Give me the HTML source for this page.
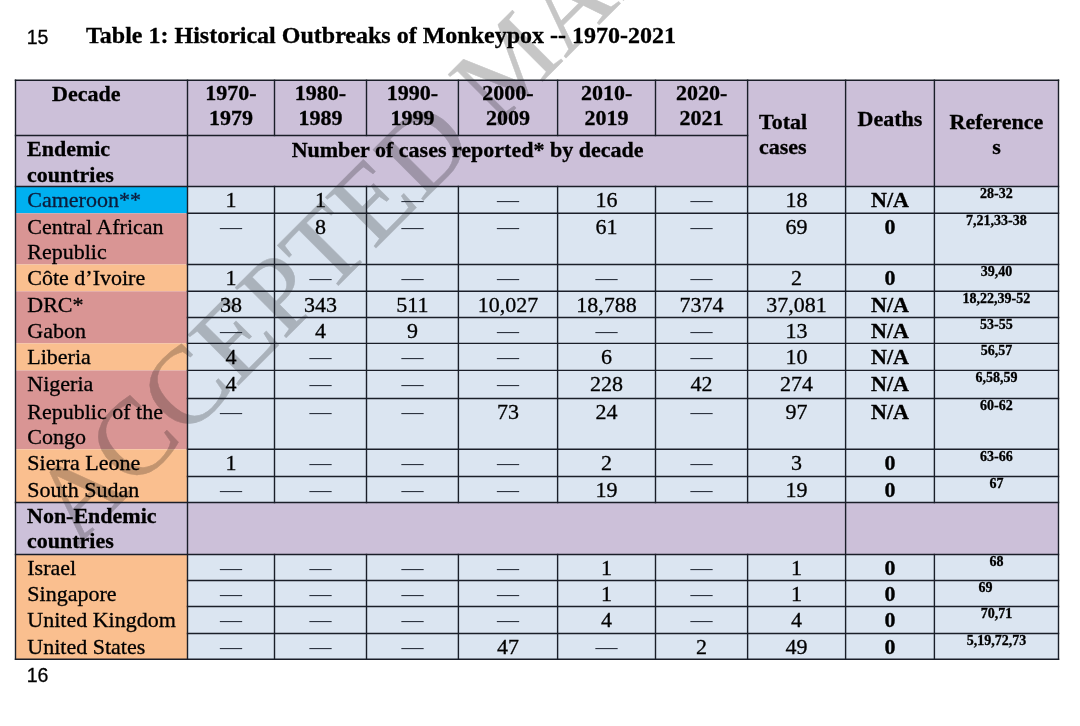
<!DOCTYPE html>
<html><head><meta charset="utf-8"><style>
html,body{margin:0;padding:0;background:#fff;}
body{width:1080px;height:726px;position:relative;overflow:hidden;font-family:"Liberation Serif",serif;color:#000;}
.t{position:absolute;white-space:nowrap;-webkit-text-stroke:0.3px currentColor;}
svg.g{position:absolute;left:0;top:0;}
</style></head><body>
<svg class="g" width="1080" height="726">
<rect x="15.5" y="80.3" width="1043.00" height="106.20" fill="#CCC0D9"/><rect x="187.5" y="186.5" width="871.00" height="472.80" fill="#DBE5F1"/><rect x="187.5" y="502.5" width="871.00" height="52.00" fill="#CCC0D9"/><rect x="15.5" y="186.5" width="172.00" height="26.80" fill="#00B0F0"/><rect x="15.5" y="213.3" width="172.00" height="51.20" fill="#D99594"/><rect x="15.5" y="264.5" width="172.00" height="26.80" fill="#FABF8F"/><rect x="15.5" y="291.3" width="172.00" height="52.10" fill="#D99594"/><rect x="15.5" y="343.4" width="172.00" height="27.00" fill="#FABF8F"/><rect x="15.5" y="370.4" width="172.00" height="78.90" fill="#D99594"/><rect x="15.5" y="449.3" width="172.00" height="53.20" fill="#FABF8F"/><rect x="15.5" y="502.5" width="172.00" height="52.00" fill="#CCC0D9"/><rect x="15.5" y="554.5" width="172.00" height="104.80" fill="#FABF8F"/>
</svg>
<svg class="g" width="1080" height="726" style="mix-blend-mode:multiply"><g opacity="1"><text x="77" y="547" transform="rotate(-45 77 547)" font-family="Liberation Serif" font-size="109.5" fill="#C6C6C6" stroke="#C6C6C6" stroke-width="0.4" stroke-linejoin="round">ACCEPTED MANUSCRIPT</text></g></svg>
<div class="t" style="left:52.00px;top:80.72px;font-size:22px;line-height:25.299999999999997px;font-weight:bold;">Decade</div><div class="t" style="left:187.50px;top:80.42px;font-size:22px;line-height:25.299999999999997px;width:87.00px;text-align:center;font-weight:bold;">1970-</div><div class="t" style="left:187.50px;top:105.42px;font-size:22px;line-height:25.299999999999997px;width:87.00px;text-align:center;font-weight:bold;">1979</div><div class="t" style="left:274.50px;top:80.42px;font-size:22px;line-height:25.299999999999997px;width:92.00px;text-align:center;font-weight:bold;">1980-</div><div class="t" style="left:274.50px;top:105.42px;font-size:22px;line-height:25.299999999999997px;width:92.00px;text-align:center;font-weight:bold;">1989</div><div class="t" style="left:366.50px;top:80.42px;font-size:22px;line-height:25.299999999999997px;width:91.90px;text-align:center;font-weight:bold;">1990-</div><div class="t" style="left:366.50px;top:105.42px;font-size:22px;line-height:25.299999999999997px;width:91.90px;text-align:center;font-weight:bold;">1999</div><div class="t" style="left:458.40px;top:80.42px;font-size:22px;line-height:25.299999999999997px;width:99.20px;text-align:center;font-weight:bold;">2000-</div><div class="t" style="left:458.40px;top:105.42px;font-size:22px;line-height:25.299999999999997px;width:99.20px;text-align:center;font-weight:bold;">2009</div><div class="t" style="left:557.60px;top:80.42px;font-size:22px;line-height:25.299999999999997px;width:97.90px;text-align:center;font-weight:bold;">2010-</div><div class="t" style="left:557.60px;top:105.42px;font-size:22px;line-height:25.299999999999997px;width:97.90px;text-align:center;font-weight:bold;">2019</div><div class="t" style="left:655.50px;top:80.42px;font-size:22px;line-height:25.299999999999997px;width:92.10px;text-align:center;font-weight:bold;">2020-</div><div class="t" style="left:655.50px;top:105.42px;font-size:22px;line-height:25.299999999999997px;width:92.10px;text-align:center;font-weight:bold;">2021</div><div class="t" style="left:759.00px;top:108.52px;font-size:22px;line-height:25.299999999999997px;font-weight:bold;">Total</div><div class="t" style="left:759.00px;top:133.93px;font-size:22px;line-height:25.299999999999997px;font-weight:bold;">cases</div><div class="t" style="left:845.60px;top:105.92px;font-size:22px;line-height:25.299999999999997px;width:88.80px;text-align:center;font-weight:bold;">Deaths</div><div class="t" style="left:934.40px;top:108.73px;font-size:22px;line-height:25.299999999999997px;width:124.10px;text-align:center;font-weight:bold;">Reference</div><div class="t" style="left:934.40px;top:133.93px;font-size:22px;line-height:25.299999999999997px;width:124.10px;text-align:center;font-weight:bold;">s</div><div class="t" style="left:27.00px;top:135.93px;font-size:22px;line-height:25.299999999999997px;font-weight:bold;">Endemic</div><div class="t" style="left:27.00px;top:161.93px;font-size:22px;line-height:25.299999999999997px;font-weight:bold;">countries</div><div class="t" style="left:187.50px;top:137.43px;font-size:22px;line-height:25.299999999999997px;width:560.10px;text-align:center;font-weight:bold;">Number of cases reported* by decade</div><div class="t" style="left:27.30px;top:187.33px;font-size:22px;line-height:25.299999999999997px;color:#0d1b3a;">Cameroon**</div><div class="t" style="left:187.50px;top:186.93px;font-size:22px;line-height:25.299999999999997px;width:87.00px;text-align:center;">1</div><div class="t" style="left:274.50px;top:186.93px;font-size:22px;line-height:25.299999999999997px;width:92.00px;text-align:center;">1</div><div class="t" style="left:366.50px;top:186.93px;font-size:22px;line-height:25.299999999999997px;width:91.90px;text-align:center;color:#1e2430;-webkit-text-stroke:0;">&#8212;</div><div class="t" style="left:458.40px;top:186.93px;font-size:22px;line-height:25.299999999999997px;width:99.20px;text-align:center;color:#1e2430;-webkit-text-stroke:0;">&#8212;</div><div class="t" style="left:557.60px;top:186.93px;font-size:22px;line-height:25.299999999999997px;width:97.90px;text-align:center;">16</div><div class="t" style="left:655.50px;top:186.93px;font-size:22px;line-height:25.299999999999997px;width:92.10px;text-align:center;color:#1e2430;-webkit-text-stroke:0;">&#8212;</div><div class="t" style="left:747.60px;top:186.93px;font-size:22px;line-height:25.299999999999997px;width:98.00px;text-align:center;">18</div><div class="t" style="left:845.60px;top:186.93px;font-size:22px;line-height:25.299999999999997px;width:88.80px;text-align:center;font-weight:bold;">N/A</div><div class="t" style="left:934.40px;top:185.72px;font-size:14px;line-height:16.099999999999998px;width:124.10px;text-align:center;font-weight:bold;">28-32</div><div class="t" style="left:27.30px;top:214.13px;font-size:22px;line-height:25.299999999999997px;">Central African</div><div class="t" style="left:27.30px;top:239.12px;font-size:22px;line-height:25.299999999999997px;">Republic</div><div class="t" style="left:187.50px;top:213.73px;font-size:22px;line-height:25.299999999999997px;width:87.00px;text-align:center;color:#1e2430;-webkit-text-stroke:0;">&#8212;</div><div class="t" style="left:274.50px;top:213.73px;font-size:22px;line-height:25.299999999999997px;width:92.00px;text-align:center;">8</div><div class="t" style="left:366.50px;top:213.73px;font-size:22px;line-height:25.299999999999997px;width:91.90px;text-align:center;color:#1e2430;-webkit-text-stroke:0;">&#8212;</div><div class="t" style="left:458.40px;top:213.73px;font-size:22px;line-height:25.299999999999997px;width:99.20px;text-align:center;color:#1e2430;-webkit-text-stroke:0;">&#8212;</div><div class="t" style="left:557.60px;top:213.73px;font-size:22px;line-height:25.299999999999997px;width:97.90px;text-align:center;">61</div><div class="t" style="left:655.50px;top:213.73px;font-size:22px;line-height:25.299999999999997px;width:92.10px;text-align:center;color:#1e2430;-webkit-text-stroke:0;">&#8212;</div><div class="t" style="left:747.60px;top:213.73px;font-size:22px;line-height:25.299999999999997px;width:98.00px;text-align:center;">69</div><div class="t" style="left:845.60px;top:213.73px;font-size:22px;line-height:25.299999999999997px;width:88.80px;text-align:center;font-weight:bold;">0</div><div class="t" style="left:934.40px;top:212.53px;font-size:14px;line-height:16.099999999999998px;width:124.10px;text-align:center;font-weight:bold;">7,21,33-38</div><div class="t" style="left:27.30px;top:265.32px;font-size:22px;line-height:25.299999999999997px;">C&#244;te d&#8217;Ivoire</div><div class="t" style="left:187.50px;top:264.93px;font-size:22px;line-height:25.299999999999997px;width:87.00px;text-align:center;">1</div><div class="t" style="left:274.50px;top:264.93px;font-size:22px;line-height:25.299999999999997px;width:92.00px;text-align:center;color:#1e2430;-webkit-text-stroke:0;">&#8212;</div><div class="t" style="left:366.50px;top:264.93px;font-size:22px;line-height:25.299999999999997px;width:91.90px;text-align:center;color:#1e2430;-webkit-text-stroke:0;">&#8212;</div><div class="t" style="left:458.40px;top:264.93px;font-size:22px;line-height:25.299999999999997px;width:99.20px;text-align:center;color:#1e2430;-webkit-text-stroke:0;">&#8212;</div><div class="t" style="left:557.60px;top:264.93px;font-size:22px;line-height:25.299999999999997px;width:97.90px;text-align:center;color:#1e2430;-webkit-text-stroke:0;">&#8212;</div><div class="t" style="left:655.50px;top:264.93px;font-size:22px;line-height:25.299999999999997px;width:92.10px;text-align:center;color:#1e2430;-webkit-text-stroke:0;">&#8212;</div><div class="t" style="left:747.60px;top:264.93px;font-size:22px;line-height:25.299999999999997px;width:98.00px;text-align:center;">2</div><div class="t" style="left:845.60px;top:264.93px;font-size:22px;line-height:25.299999999999997px;width:88.80px;text-align:center;font-weight:bold;">0</div><div class="t" style="left:934.40px;top:263.73px;font-size:14px;line-height:16.099999999999998px;width:124.10px;text-align:center;font-weight:bold;">39,40</div><div class="t" style="left:27.30px;top:292.12px;font-size:22px;line-height:25.299999999999997px;">DRC*</div><div class="t" style="left:187.50px;top:291.73px;font-size:22px;line-height:25.299999999999997px;width:87.00px;text-align:center;">38</div><div class="t" style="left:274.50px;top:291.73px;font-size:22px;line-height:25.299999999999997px;width:92.00px;text-align:center;">343</div><div class="t" style="left:366.50px;top:291.73px;font-size:22px;line-height:25.299999999999997px;width:91.90px;text-align:center;">511</div><div class="t" style="left:458.40px;top:291.73px;font-size:22px;line-height:25.299999999999997px;width:99.20px;text-align:center;">10,027</div><div class="t" style="left:557.60px;top:291.73px;font-size:22px;line-height:25.299999999999997px;width:97.90px;text-align:center;">18,788</div><div class="t" style="left:655.50px;top:291.73px;font-size:22px;line-height:25.299999999999997px;width:92.10px;text-align:center;">7374</div><div class="t" style="left:747.60px;top:291.73px;font-size:22px;line-height:25.299999999999997px;width:98.00px;text-align:center;">37,081</div><div class="t" style="left:845.60px;top:291.73px;font-size:22px;line-height:25.299999999999997px;width:88.80px;text-align:center;font-weight:bold;">N/A</div><div class="t" style="left:934.40px;top:290.53px;font-size:14px;line-height:16.099999999999998px;width:124.10px;text-align:center;font-weight:bold;">18,22,39-52</div><div class="t" style="left:27.30px;top:318.32px;font-size:22px;line-height:25.299999999999997px;">Gabon</div><div class="t" style="left:187.50px;top:317.93px;font-size:22px;line-height:25.299999999999997px;width:87.00px;text-align:center;color:#1e2430;-webkit-text-stroke:0;">&#8212;</div><div class="t" style="left:274.50px;top:317.93px;font-size:22px;line-height:25.299999999999997px;width:92.00px;text-align:center;">4</div><div class="t" style="left:366.50px;top:317.93px;font-size:22px;line-height:25.299999999999997px;width:91.90px;text-align:center;">9</div><div class="t" style="left:458.40px;top:317.93px;font-size:22px;line-height:25.299999999999997px;width:99.20px;text-align:center;color:#1e2430;-webkit-text-stroke:0;">&#8212;</div><div class="t" style="left:557.60px;top:317.93px;font-size:22px;line-height:25.299999999999997px;width:97.90px;text-align:center;color:#1e2430;-webkit-text-stroke:0;">&#8212;</div><div class="t" style="left:655.50px;top:317.93px;font-size:22px;line-height:25.299999999999997px;width:92.10px;text-align:center;color:#1e2430;-webkit-text-stroke:0;">&#8212;</div><div class="t" style="left:747.60px;top:317.93px;font-size:22px;line-height:25.299999999999997px;width:98.00px;text-align:center;">13</div><div class="t" style="left:845.60px;top:317.93px;font-size:22px;line-height:25.299999999999997px;width:88.80px;text-align:center;font-weight:bold;">N/A</div><div class="t" style="left:934.40px;top:316.73px;font-size:14px;line-height:16.099999999999998px;width:124.10px;text-align:center;font-weight:bold;">53-55</div><div class="t" style="left:27.30px;top:344.22px;font-size:22px;line-height:25.299999999999997px;">Liberia</div><div class="t" style="left:187.50px;top:343.82px;font-size:22px;line-height:25.299999999999997px;width:87.00px;text-align:center;">4</div><div class="t" style="left:274.50px;top:343.82px;font-size:22px;line-height:25.299999999999997px;width:92.00px;text-align:center;color:#1e2430;-webkit-text-stroke:0;">&#8212;</div><div class="t" style="left:366.50px;top:343.82px;font-size:22px;line-height:25.299999999999997px;width:91.90px;text-align:center;color:#1e2430;-webkit-text-stroke:0;">&#8212;</div><div class="t" style="left:458.40px;top:343.82px;font-size:22px;line-height:25.299999999999997px;width:99.20px;text-align:center;color:#1e2430;-webkit-text-stroke:0;">&#8212;</div><div class="t" style="left:557.60px;top:343.82px;font-size:22px;line-height:25.299999999999997px;width:97.90px;text-align:center;">6</div><div class="t" style="left:655.50px;top:343.82px;font-size:22px;line-height:25.299999999999997px;width:92.10px;text-align:center;color:#1e2430;-webkit-text-stroke:0;">&#8212;</div><div class="t" style="left:747.60px;top:343.82px;font-size:22px;line-height:25.299999999999997px;width:98.00px;text-align:center;">10</div><div class="t" style="left:845.60px;top:343.82px;font-size:22px;line-height:25.299999999999997px;width:88.80px;text-align:center;font-weight:bold;">N/A</div><div class="t" style="left:934.40px;top:342.62px;font-size:14px;line-height:16.099999999999998px;width:124.10px;text-align:center;font-weight:bold;">56,57</div><div class="t" style="left:27.30px;top:371.22px;font-size:22px;line-height:25.299999999999997px;">Nigeria</div><div class="t" style="left:187.50px;top:370.82px;font-size:22px;line-height:25.299999999999997px;width:87.00px;text-align:center;">4</div><div class="t" style="left:274.50px;top:370.82px;font-size:22px;line-height:25.299999999999997px;width:92.00px;text-align:center;color:#1e2430;-webkit-text-stroke:0;">&#8212;</div><div class="t" style="left:366.50px;top:370.82px;font-size:22px;line-height:25.299999999999997px;width:91.90px;text-align:center;color:#1e2430;-webkit-text-stroke:0;">&#8212;</div><div class="t" style="left:458.40px;top:370.82px;font-size:22px;line-height:25.299999999999997px;width:99.20px;text-align:center;color:#1e2430;-webkit-text-stroke:0;">&#8212;</div><div class="t" style="left:557.60px;top:370.82px;font-size:22px;line-height:25.299999999999997px;width:97.90px;text-align:center;">228</div><div class="t" style="left:655.50px;top:370.82px;font-size:22px;line-height:25.299999999999997px;width:92.10px;text-align:center;">42</div><div class="t" style="left:747.60px;top:370.82px;font-size:22px;line-height:25.299999999999997px;width:98.00px;text-align:center;">274</div><div class="t" style="left:845.60px;top:370.82px;font-size:22px;line-height:25.299999999999997px;width:88.80px;text-align:center;font-weight:bold;">N/A</div><div class="t" style="left:934.40px;top:369.62px;font-size:14px;line-height:16.099999999999998px;width:124.10px;text-align:center;font-weight:bold;">6,58,59</div><div class="t" style="left:27.30px;top:399.32px;font-size:22px;line-height:25.299999999999997px;">Republic of the</div><div class="t" style="left:27.30px;top:424.32px;font-size:22px;line-height:25.299999999999997px;">Congo</div><div class="t" style="left:187.50px;top:398.93px;font-size:22px;line-height:25.299999999999997px;width:87.00px;text-align:center;color:#1e2430;-webkit-text-stroke:0;">&#8212;</div><div class="t" style="left:274.50px;top:398.93px;font-size:22px;line-height:25.299999999999997px;width:92.00px;text-align:center;color:#1e2430;-webkit-text-stroke:0;">&#8212;</div><div class="t" style="left:366.50px;top:398.93px;font-size:22px;line-height:25.299999999999997px;width:91.90px;text-align:center;color:#1e2430;-webkit-text-stroke:0;">&#8212;</div><div class="t" style="left:458.40px;top:398.93px;font-size:22px;line-height:25.299999999999997px;width:99.20px;text-align:center;">73</div><div class="t" style="left:557.60px;top:398.93px;font-size:22px;line-height:25.299999999999997px;width:97.90px;text-align:center;">24</div><div class="t" style="left:655.50px;top:398.93px;font-size:22px;line-height:25.299999999999997px;width:92.10px;text-align:center;color:#1e2430;-webkit-text-stroke:0;">&#8212;</div><div class="t" style="left:747.60px;top:398.93px;font-size:22px;line-height:25.299999999999997px;width:98.00px;text-align:center;">97</div><div class="t" style="left:845.60px;top:398.93px;font-size:22px;line-height:25.299999999999997px;width:88.80px;text-align:center;font-weight:bold;">N/A</div><div class="t" style="left:934.40px;top:397.73px;font-size:14px;line-height:16.099999999999998px;width:124.10px;text-align:center;font-weight:bold;">60-62</div><div class="t" style="left:27.30px;top:450.12px;font-size:22px;line-height:25.299999999999997px;">Sierra Leone</div><div class="t" style="left:187.50px;top:449.73px;font-size:22px;line-height:25.299999999999997px;width:87.00px;text-align:center;">1</div><div class="t" style="left:274.50px;top:449.73px;font-size:22px;line-height:25.299999999999997px;width:92.00px;text-align:center;color:#1e2430;-webkit-text-stroke:0;">&#8212;</div><div class="t" style="left:366.50px;top:449.73px;font-size:22px;line-height:25.299999999999997px;width:91.90px;text-align:center;color:#1e2430;-webkit-text-stroke:0;">&#8212;</div><div class="t" style="left:458.40px;top:449.73px;font-size:22px;line-height:25.299999999999997px;width:99.20px;text-align:center;color:#1e2430;-webkit-text-stroke:0;">&#8212;</div><div class="t" style="left:557.60px;top:449.73px;font-size:22px;line-height:25.299999999999997px;width:97.90px;text-align:center;">2</div><div class="t" style="left:655.50px;top:449.73px;font-size:22px;line-height:25.299999999999997px;width:92.10px;text-align:center;color:#1e2430;-webkit-text-stroke:0;">&#8212;</div><div class="t" style="left:747.60px;top:449.73px;font-size:22px;line-height:25.299999999999997px;width:98.00px;text-align:center;">3</div><div class="t" style="left:845.60px;top:449.73px;font-size:22px;line-height:25.299999999999997px;width:88.80px;text-align:center;font-weight:bold;">0</div><div class="t" style="left:934.40px;top:448.53px;font-size:14px;line-height:16.099999999999998px;width:124.10px;text-align:center;font-weight:bold;">63-66</div><div class="t" style="left:27.30px;top:477.32px;font-size:22px;line-height:25.299999999999997px;">South Sudan</div><div class="t" style="left:187.50px;top:476.93px;font-size:22px;line-height:25.299999999999997px;width:87.00px;text-align:center;color:#1e2430;-webkit-text-stroke:0;">&#8212;</div><div class="t" style="left:274.50px;top:476.93px;font-size:22px;line-height:25.299999999999997px;width:92.00px;text-align:center;color:#1e2430;-webkit-text-stroke:0;">&#8212;</div><div class="t" style="left:366.50px;top:476.93px;font-size:22px;line-height:25.299999999999997px;width:91.90px;text-align:center;color:#1e2430;-webkit-text-stroke:0;">&#8212;</div><div class="t" style="left:458.40px;top:476.93px;font-size:22px;line-height:25.299999999999997px;width:99.20px;text-align:center;color:#1e2430;-webkit-text-stroke:0;">&#8212;</div><div class="t" style="left:557.60px;top:476.93px;font-size:22px;line-height:25.299999999999997px;width:97.90px;text-align:center;">19</div><div class="t" style="left:655.50px;top:476.93px;font-size:22px;line-height:25.299999999999997px;width:92.10px;text-align:center;color:#1e2430;-webkit-text-stroke:0;">&#8212;</div><div class="t" style="left:747.60px;top:476.93px;font-size:22px;line-height:25.299999999999997px;width:98.00px;text-align:center;">19</div><div class="t" style="left:845.60px;top:476.93px;font-size:22px;line-height:25.299999999999997px;width:88.80px;text-align:center;font-weight:bold;">0</div><div class="t" style="left:934.40px;top:475.73px;font-size:14px;line-height:16.099999999999998px;width:124.10px;text-align:center;font-weight:bold;">67</div><div class="t" style="left:27.00px;top:502.93px;font-size:22px;line-height:25.299999999999997px;font-weight:bold;">Non-Endemic</div><div class="t" style="left:27.00px;top:527.92px;font-size:22px;line-height:25.299999999999997px;font-weight:bold;">countries</div><div class="t" style="left:27.30px;top:555.32px;font-size:22px;line-height:25.299999999999997px;">Israel</div><div class="t" style="left:187.50px;top:554.92px;font-size:22px;line-height:25.299999999999997px;width:87.00px;text-align:center;color:#1e2430;-webkit-text-stroke:0;">&#8212;</div><div class="t" style="left:274.50px;top:554.92px;font-size:22px;line-height:25.299999999999997px;width:92.00px;text-align:center;color:#1e2430;-webkit-text-stroke:0;">&#8212;</div><div class="t" style="left:366.50px;top:554.92px;font-size:22px;line-height:25.299999999999997px;width:91.90px;text-align:center;color:#1e2430;-webkit-text-stroke:0;">&#8212;</div><div class="t" style="left:458.40px;top:554.92px;font-size:22px;line-height:25.299999999999997px;width:99.20px;text-align:center;color:#1e2430;-webkit-text-stroke:0;">&#8212;</div><div class="t" style="left:557.60px;top:554.92px;font-size:22px;line-height:25.299999999999997px;width:97.90px;text-align:center;">1</div><div class="t" style="left:655.50px;top:554.92px;font-size:22px;line-height:25.299999999999997px;width:92.10px;text-align:center;color:#1e2430;-webkit-text-stroke:0;">&#8212;</div><div class="t" style="left:747.60px;top:554.92px;font-size:22px;line-height:25.299999999999997px;width:98.00px;text-align:center;">1</div><div class="t" style="left:845.60px;top:554.92px;font-size:22px;line-height:25.299999999999997px;width:88.80px;text-align:center;font-weight:bold;">0</div><div class="t" style="left:934.40px;top:553.73px;font-size:14px;line-height:16.099999999999998px;width:124.10px;text-align:center;font-weight:bold;">68</div><div class="t" style="left:27.30px;top:581.32px;font-size:22px;line-height:25.299999999999997px;">Singapore</div><div class="t" style="left:187.50px;top:580.92px;font-size:22px;line-height:25.299999999999997px;width:87.00px;text-align:center;color:#1e2430;-webkit-text-stroke:0;">&#8212;</div><div class="t" style="left:274.50px;top:580.92px;font-size:22px;line-height:25.299999999999997px;width:92.00px;text-align:center;color:#1e2430;-webkit-text-stroke:0;">&#8212;</div><div class="t" style="left:366.50px;top:580.92px;font-size:22px;line-height:25.299999999999997px;width:91.90px;text-align:center;color:#1e2430;-webkit-text-stroke:0;">&#8212;</div><div class="t" style="left:458.40px;top:580.92px;font-size:22px;line-height:25.299999999999997px;width:99.20px;text-align:center;color:#1e2430;-webkit-text-stroke:0;">&#8212;</div><div class="t" style="left:557.60px;top:580.92px;font-size:22px;line-height:25.299999999999997px;width:97.90px;text-align:center;">1</div><div class="t" style="left:655.50px;top:580.92px;font-size:22px;line-height:25.299999999999997px;width:92.10px;text-align:center;color:#1e2430;-webkit-text-stroke:0;">&#8212;</div><div class="t" style="left:747.60px;top:580.92px;font-size:22px;line-height:25.299999999999997px;width:98.00px;text-align:center;">1</div><div class="t" style="left:845.60px;top:580.92px;font-size:22px;line-height:25.299999999999997px;width:88.80px;text-align:center;font-weight:bold;">0</div><div class="t" style="left:923.40px;top:579.73px;font-size:14px;line-height:16.099999999999998px;width:124.10px;text-align:center;font-weight:bold;">69</div><div class="t" style="left:27.30px;top:607.32px;font-size:22px;line-height:25.299999999999997px;">United Kingdom</div><div class="t" style="left:187.50px;top:606.92px;font-size:22px;line-height:25.299999999999997px;width:87.00px;text-align:center;color:#1e2430;-webkit-text-stroke:0;">&#8212;</div><div class="t" style="left:274.50px;top:606.92px;font-size:22px;line-height:25.299999999999997px;width:92.00px;text-align:center;color:#1e2430;-webkit-text-stroke:0;">&#8212;</div><div class="t" style="left:366.50px;top:606.92px;font-size:22px;line-height:25.299999999999997px;width:91.90px;text-align:center;color:#1e2430;-webkit-text-stroke:0;">&#8212;</div><div class="t" style="left:458.40px;top:606.92px;font-size:22px;line-height:25.299999999999997px;width:99.20px;text-align:center;color:#1e2430;-webkit-text-stroke:0;">&#8212;</div><div class="t" style="left:557.60px;top:606.92px;font-size:22px;line-height:25.299999999999997px;width:97.90px;text-align:center;">4</div><div class="t" style="left:655.50px;top:606.92px;font-size:22px;line-height:25.299999999999997px;width:92.10px;text-align:center;color:#1e2430;-webkit-text-stroke:0;">&#8212;</div><div class="t" style="left:747.60px;top:606.92px;font-size:22px;line-height:25.299999999999997px;width:98.00px;text-align:center;">4</div><div class="t" style="left:845.60px;top:606.92px;font-size:22px;line-height:25.299999999999997px;width:88.80px;text-align:center;font-weight:bold;">0</div><div class="t" style="left:934.40px;top:605.73px;font-size:14px;line-height:16.099999999999998px;width:124.10px;text-align:center;font-weight:bold;">70,71</div><div class="t" style="left:27.30px;top:634.32px;font-size:22px;line-height:25.299999999999997px;">United States</div><div class="t" style="left:187.50px;top:633.92px;font-size:22px;line-height:25.299999999999997px;width:87.00px;text-align:center;color:#1e2430;-webkit-text-stroke:0;">&#8212;</div><div class="t" style="left:274.50px;top:633.92px;font-size:22px;line-height:25.299999999999997px;width:92.00px;text-align:center;color:#1e2430;-webkit-text-stroke:0;">&#8212;</div><div class="t" style="left:366.50px;top:633.92px;font-size:22px;line-height:25.299999999999997px;width:91.90px;text-align:center;color:#1e2430;-webkit-text-stroke:0;">&#8212;</div><div class="t" style="left:458.40px;top:633.92px;font-size:22px;line-height:25.299999999999997px;width:99.20px;text-align:center;">47</div><div class="t" style="left:557.60px;top:633.92px;font-size:22px;line-height:25.299999999999997px;width:97.90px;text-align:center;color:#1e2430;-webkit-text-stroke:0;">&#8212;</div><div class="t" style="left:655.50px;top:633.92px;font-size:22px;line-height:25.299999999999997px;width:92.10px;text-align:center;">2</div><div class="t" style="left:747.60px;top:633.92px;font-size:22px;line-height:25.299999999999997px;width:98.00px;text-align:center;">49</div><div class="t" style="left:845.60px;top:633.92px;font-size:22px;line-height:25.299999999999997px;width:88.80px;text-align:center;font-weight:bold;">0</div><div class="t" style="left:934.40px;top:632.73px;font-size:14px;line-height:16.099999999999998px;width:124.10px;text-align:center;font-weight:bold;">5,19,72,73</div><div class="t" style="left:26.70px;top:26.21px;font-size:19.5px;line-height:22.424999999999997px;font-family:'Liberation Sans',sans-serif;">15</div><div class="t" style="left:86.00px;top:22.10px;font-size:24px;line-height:27.599999999999998px;font-weight:bold;">Table 1: Historical Outbreaks of Monkeypox -- 1970-2021</div><div class="t" style="left:26.70px;top:664.21px;font-size:19.5px;line-height:22.424999999999997px;font-family:'Liberation Sans',sans-serif;">16</div>
<svg class="g" width="1080" height="726"><g stroke="#1a1e28" stroke-width="1.4" stroke-linecap="square" fill="none">
<line x1="15.5" y1="80.3" x2="1058.5" y2="80.3"/><line x1="15.5" y1="659.3" x2="1058.5" y2="659.3"/><line x1="15.5" y1="80.3" x2="15.5" y2="659.3"/><line x1="1058.5" y1="80.3" x2="1058.5" y2="659.3"/><line x1="187.5" y1="80.3" x2="187.5" y2="659.3"/><line x1="15.5" y1="135.5" x2="747.6" y2="135.5"/><line x1="274.5" y1="80.3" x2="274.5" y2="135.5"/><line x1="366.5" y1="80.3" x2="366.5" y2="135.5"/><line x1="458.4" y1="80.3" x2="458.4" y2="135.5"/><line x1="557.6" y1="80.3" x2="557.6" y2="135.5"/><line x1="655.5" y1="80.3" x2="655.5" y2="135.5"/><line x1="747.6" y1="80.3" x2="747.6" y2="502.5"/><line x1="845.6" y1="80.3" x2="845.6" y2="659.3"/><line x1="934.4" y1="80.3" x2="934.4" y2="502.5"/><line x1="747.6" y1="554.5" x2="747.6" y2="659.3"/><line x1="934.4" y1="554.5" x2="934.4" y2="659.3"/><line x1="15.5" y1="186.5" x2="1058.5" y2="186.5"/><line x1="187.5" y1="213.3" x2="1058.5" y2="213.3"/><line x1="187.5" y1="264.5" x2="1058.5" y2="264.5"/><line x1="187.5" y1="291.3" x2="1058.5" y2="291.3"/><line x1="187.5" y1="317.5" x2="1058.5" y2="317.5"/><line x1="187.5" y1="343.4" x2="1058.5" y2="343.4"/><line x1="187.5" y1="370.4" x2="1058.5" y2="370.4"/><line x1="187.5" y1="398.5" x2="1058.5" y2="398.5"/><line x1="187.5" y1="449.3" x2="1058.5" y2="449.3"/><line x1="187.5" y1="476.5" x2="1058.5" y2="476.5"/><line x1="274.5" y1="186.5" x2="274.5" y2="502.5"/><line x1="274.5" y1="554.5" x2="274.5" y2="659.3"/><line x1="366.5" y1="186.5" x2="366.5" y2="502.5"/><line x1="366.5" y1="554.5" x2="366.5" y2="659.3"/><line x1="458.4" y1="186.5" x2="458.4" y2="502.5"/><line x1="458.4" y1="554.5" x2="458.4" y2="659.3"/><line x1="557.6" y1="186.5" x2="557.6" y2="502.5"/><line x1="557.6" y1="554.5" x2="557.6" y2="659.3"/><line x1="655.5" y1="186.5" x2="655.5" y2="502.5"/><line x1="655.5" y1="554.5" x2="655.5" y2="659.3"/><line x1="15.5" y1="502.5" x2="1058.5" y2="502.5"/><line x1="15.5" y1="554.5" x2="1058.5" y2="554.5"/><line x1="187.5" y1="580.5" x2="1058.5" y2="580.5"/><line x1="187.5" y1="606.5" x2="1058.5" y2="606.5"/><line x1="187.5" y1="633.5" x2="1058.5" y2="633.5"/>
</g></svg>
</body></html>
